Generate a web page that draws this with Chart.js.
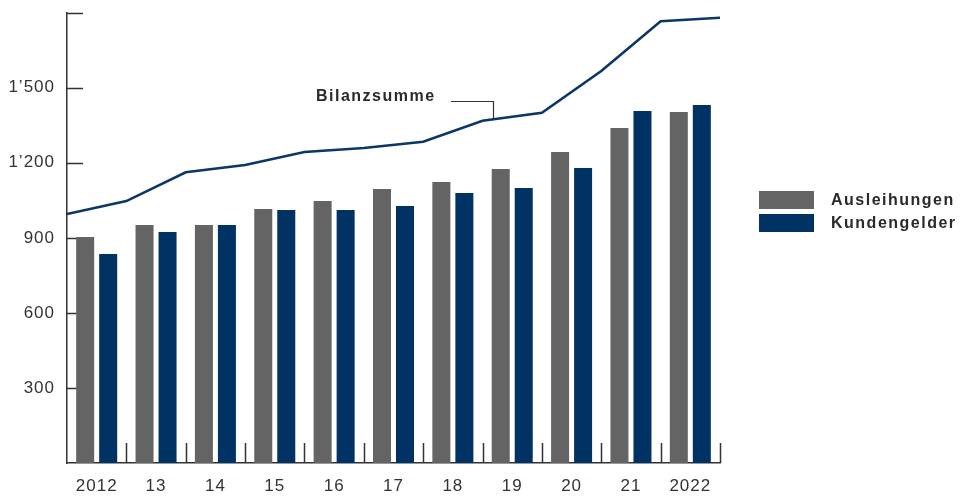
<!DOCTYPE html>
<html>
<head>
<meta charset="utf-8">
<script src="https://cdn.jsdelivr.net/npm/chart.js@4/dist/chart.umd.min.js"></script>
<style>
  body { margin: 0; background: #fff; }
  #chart { display: block; }
</style>
</head>
<body>
<canvas id="chart" width="963" height="498"></canvas>
<script>
// values
const years = ["2012", "13", "14", "15", "16", "17", "18", "19", "20", "21", "2022"];
const ausleihungen = [903, 951, 951, 1015, 1047, 1095, 1123, 1175, 1243, 1339, 1403];
const kundengelder = [835, 923, 951, 1011, 1011, 1027, 1079, 1099, 1179, 1407, 1431];
// balance sheet total sits on the year boundaries (12 points)
const bilanzsumme = [995, 1047, 1162, 1191, 1243, 1259, 1284, 1368, 1400, 1567, 1766, 1780];
const yMax = 1800;
const yStep = 300;

const GRAY = "#646464";
const BLUE = "#003264";
const LINE = "#0a3767";
const TEXT = "#333333";
const FONT = "'Liberation Sans', Arial, sans-serif";

const fmt = (v) => {
  if (v === 0 || v === yMax) return "";
  const s = String(v);
  return s.length > 3 ? s.slice(0, -3) + "\u2019" + s.slice(-3) : s;
};

// one linear x axis: year i spans [i, i+1], bars sit in the middle,
// the line points sit on the boundaries
const barData = (arr) => arr.map((v, i) => ({ x: i + 0.5, y: v }));

const noPad = (s) => {
  s.paddingTop = 0;
  s.paddingBottom = 0;
  s.paddingLeft = 0;
  s.paddingRight = 0;
};

// short inward tick marks, year separators, label + legend
const marks = {
  id: "marks",
  beforeDraw(chart) {
    chart.ctx.letterSpacing = "1px";
  },
  beforeDatasetsDraw(chart) {
    const { ctx, chartArea, scales } = chart;
    ctx.save();
    ctx.strokeStyle = TEXT;
    ctx.lineWidth = 1.5;
    ctx.beginPath();
    scales.y.ticks.forEach((t) => {
      if (t.value <= 0) return;
      const y = Math.round(scales.y.getPixelForValue(t.value)) + 0.5;
      ctx.moveTo(chartArea.left, y);
      ctx.lineTo(chartArea.left + 16, y);
    });
    for (let i = 1; i <= years.length; i++) {
      const x = Math.round(scales.x.getPixelForValue(i)) + 0.5;
      ctx.moveTo(x, chartArea.bottom);
      ctx.lineTo(x, chartArea.bottom - 20);
    }
    ctx.stroke();
    ctx.restore();
  },
  afterDraw(chart) {
    const { ctx, scales } = chart;
    ctx.save();
    ctx.letterSpacing = "1.5px";
    ctx.font = "bold 16px " + FONT;
    ctx.fillStyle = "#2a2a2a";
    ctx.textBaseline = "alphabetic";
    ctx.fillText("Bilanzsumme", 316, 101);

    // leader line to the Bilanzsumme curve
    const at = 7.17;
    const i = Math.floor(at);
    const v = bilanzsumme[i] + (bilanzsumme[i + 1] - bilanzsumme[i]) * (at - i);
    const xA = Math.round(scales.x.getPixelForValue(at)) + 0.5;
    const yA = scales.y.getPixelForValue(v);
    ctx.strokeStyle = TEXT;
    ctx.lineWidth = 1.2;
    ctx.beginPath();
    ctx.moveTo(451, 101.5);
    ctx.lineTo(xA, 101.5);
    ctx.lineTo(xA, yA);
    ctx.stroke();

    // legend
    const items = chart.data.datasets.filter((d) => d.type === "bar");
    items.forEach((d, k) => {
      const top = 191 + k * 23;
      ctx.fillStyle = d.backgroundColor;
      ctx.fillRect(759, top, 55, 18);
      ctx.fillStyle = "#2a2a2a";
      ctx.textBaseline = "middle";
      ctx.fillText(d.label, 831, top + 10);
    });
    ctx.restore();
  },
};

new Chart(document.getElementById("chart"), {
  data: {
    datasets: [
      {
        type: "line",
        label: "Bilanzsumme",
        data: bilanzsumme.map((v, i) => ({ x: i, y: v })),
        borderColor: LINE,
        borderWidth: 2.6,
        pointRadius: 0,
        tension: 0,
        fill: false,
        order: 0,
      },
      {
        type: "bar",
        label: "Ausleihungen",
        data: barData(ausleihungen),
        backgroundColor: GRAY,
        categoryPercentage: 0.775,
        barPercentage: 0.783,
        order: 1,
      },
      {
        type: "bar",
        label: "Kundengelder",
        data: barData(kundengelder),
        backgroundColor: BLUE,
        categoryPercentage: 0.775,
        barPercentage: 0.783,
        order: 1,
      },
    ],
  },
  options: {
    responsive: false,
    animation: false,
    layout: { padding: { top: 12.7, right: 243, left: 0, bottom: 0 } },
    plugins: {
      legend: { display: false },
      tooltip: { enabled: false },
    },
    scales: {
      x: {
        type: "linear",
        min: 0,
        max: years.length,
        offset: false,
        grid: { display: false, drawTicks: false, offset: false },
        border: { display: true, color: TEXT, width: 1.5 },
        afterBuildTicks: (s) => {
          s.ticks = years.map((_, i) => ({ value: i + 0.5 }));
        },
        ticks: {
          color: TEXT,
          font: { family: FONT, size: 17 },
          padding: 13,
          maxRotation: 0,
          autoSkip: false,
          callback: (v, i) => years[i],
        },
        afterFit: (s) => {
          s.height = 35;
          noPad(s);
        },
      },
      y: {
        min: 0,
        max: yMax,
        grid: { display: false, drawTicks: false },
        border: { display: true, color: TEXT, width: 1.5 },
        ticks: {
          stepSize: yStep,
          color: TEXT,
          font: { family: FONT, size: 17 },
          padding: 12,
          callback: fmt,
        },
        afterFit: (s) => {
          s.width = 67;
          noPad(s);
        },
      },
    },
  },
  plugins: [marks],
});
</script>
</body>
</html>
